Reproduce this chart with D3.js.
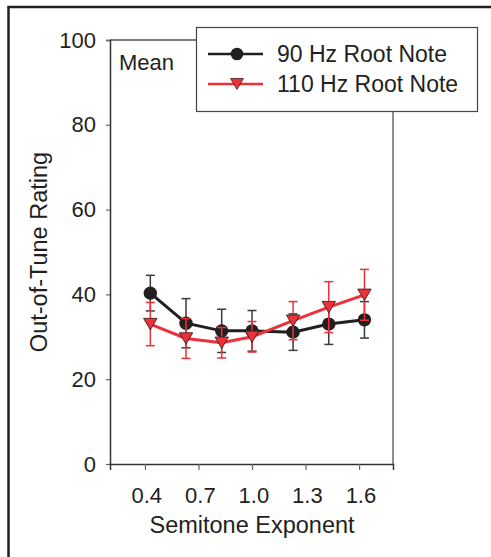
<!DOCTYPE html>
<html>
<head>
<meta charset="utf-8">
<script src="https://cdn.jsdelivr.net/npm/d3@7"></script>
<style>
body { margin: 0; background: #fff; }
svg { display: block; }
text { font-family: "Liberation Sans", Arial, sans-serif; fill: #231f20; }
</style>
</head>
<body>
<svg id="chart"></svg>
<script>
// values
const exponents = [0.43, 0.63, 0.83, 1.0, 1.23, 1.43, 1.63];
const root90 = [40.3, 33.2, 31.4, 31.4, 31.1, 33.0, 34.0];
const root90Err = [4.2, 5.8, 5.1, 4.8, 4.3, 4.8, 4.3];
const root110 = [33.0, 29.6, 28.6, 30.0, 33.8, 37.0, 39.9];
const root110Err = [5.1, 4.7, 3.6, 3.6, 4.5, 6.0, 6.0];
const xTicks = [0.4, 0.7, 1.0, 1.3, 1.6];
const yTicks = [0, 20, 40, 60, 80, 100];
const seriesNames = ["90 Hz Root Note", "110 Hz Root Note"];

const W = 491, H = 557;
const margin = {top: 40, right: 98, bottom: 93, left: 110};
const width = W - margin.left - margin.right;
const height = H - margin.top - margin.bottom;

const svg = d3.select("#chart").attr("width", W).attr("height", H);

// outer figure frame (only top and left edges are inside the picture)
svg.append("path")
	.attr("d", "M8.5," + H + "V7H" + W)
	.attr("fill", "none")
	.attr("stroke", "#231f20")
	.attr("stroke-width", 2.5);

const x = d3.scaleLinear().domain([0.204, 1.79]).range([0, width]);
const y = d3.scaleLinear().domain([0, 100]).range([height, 0]);

const g = svg.append("g")
	.attr("transform", "translate(" + margin.left + "," + margin.top + ")");

// frame top / right
g.append("path")
	.attr("d", "M0,0H" + width + "V" + height)
	.attr("fill", "none")
	.attr("stroke", "#555")
	.attr("stroke-width", 1.3);

let yAxis = g.append("g")
	.call(d3.axisLeft(y).tickValues(yTicks).tickSize(4).tickPadding(10));
let xAxis = g.append("g")
	.attr("transform", "translate(0," + height + ")")
	.call(d3.axisBottom(x).tickValues(xTicks).tickFormat(d3.format(".1f")).tickSize(6).tickPadding(17));

[yAxis, xAxis].forEach(function(a){
	a.select(".domain").attr("stroke", "#333").attr("stroke-width", 1.5);
	a.selectAll(".tick line").attr("stroke", "#666").attr("stroke-width", 1.2);
	a.selectAll("text").style("font-size", "22px").attr("fill", "#231f20")
		.style("font-family", '"Liberation Sans", Arial, sans-serif');
});
yAxis.select(".domain").attr("d", "M-4,0.5H0.5V" + height);
xAxis.selectAll("text").attr("dx", "0.06em");

// axis titles
g.append("text")
	.attr("x", x(1.0))
	.attr("y", height + 69)
	.attr("text-anchor", "middle")
	.style("font-size", "23.5px")
	.text("Semitone Exponent");

g.append("text")
	.attr("transform", "translate(" + (-63) + "," + (height / 2) + ") rotate(-90)")
	.attr("text-anchor", "middle")
	.style("font-size", "23.5px")
	.text("Out-of-Tune Rating");

g.append("text")
	.attr("x", 9)
	.attr("y", 30)
	.style("font-size", "22px")
	.text("Mean");

// downward triangle centred on its bounding box
const triDown = {
	draw: function(ctx, size) {
		let w = Math.sqrt(size) * 0.6, h = w * 0.85;
		ctx.moveTo(-w, -h);
		ctx.lineTo(w, -h);
		ctx.lineTo(0, h);
		ctx.closePath();
	}
};

let series = [
	{name: seriesNames[0], values: root90, err: root90Err, color: "#231f20", bar: "#3a3a3a", fill: "#231f20"},
	{name: seriesNames[1], values: root110, err: root110Err, color: "#ee3139", bar: "#ee3139", fill: "#e8333b"}
];

let line = d3.line()
	.x(function(d){ return x(d.x); })
	.y(function(d){ return y(d.y); });

series.forEach(function(s, k){
	let pts = s.values.map(function(v, i){ return {x: exponents[i], y: v, e: s.err[i]}; });
	let sg = g.append("g");

	let bars = sg.selectAll(".bar").data(pts).enter().append("g")
		.attr("stroke", s.bar).attr("stroke-width", 1.5);
	bars.append("line")
		.attr("x1", d => x(d.x)).attr("x2", d => x(d.x))
		.attr("y1", d => y(d.y + d.e)).attr("y2", d => y(d.y - d.e));
	bars.append("line")
		.attr("x1", d => x(d.x) - 4.5).attr("x2", d => x(d.x) + 4.5)
		.attr("y1", d => y(d.y + d.e)).attr("y2", d => y(d.y + d.e));
	bars.append("line")
		.attr("x1", d => x(d.x) - 4.5).attr("x2", d => x(d.x) + 4.5)
		.attr("y1", d => y(d.y - d.e)).attr("y2", d => y(d.y - d.e));

	sg.append("path")
		.datum(pts)
		.attr("d", line)
		.attr("fill", "none")
		.attr("stroke", s.color)
		.attr("stroke-width", 3);

	if (k == 0) {
		sg.selectAll("circle").data(pts).enter().append("circle")
			.attr("cx", d => x(d.x)).attr("cy", d => y(d.y))
			.attr("r", 6.7)
			.attr("fill", s.fill);
	} else {
		sg.selectAll(".tri").data(pts).enter().append("path")
			.attr("transform", d => "translate(" + x(d.x) + "," + y(d.y) + ")")
			.attr("d", d3.symbol().type(triDown).size(125))
			.attr("fill", s.fill)
			.attr("stroke", "#4a1a1c")
			.attr("stroke-width", 0.9);
	}
});

// legend
let lg = svg.append("g").attr("transform", "translate(196,27)");
lg.append("rect")
	.attr("x", 0.5).attr("y", 0.5)
	.attr("width", 281).attr("height", 84)
	.attr("fill", "#fff")
	.attr("stroke", "#444")
	.attr("stroke-width", 1.2);

series.forEach(function(s, k){
	let row = lg.append("g").attr("transform", "translate(0," + (27 + k * 30) + ")");
	row.append("line")
		.attr("x1", 12).attr("x2", 67)
		.attr("stroke", s.color).attr("stroke-width", 2.5);
	if (k == 0) {
		row.append("circle").attr("cx", 41).attr("r", 6.3).attr("fill", s.fill);
	} else {
		row.append("path")
			.attr("transform", "translate(41,0)")
			.attr("d", d3.symbol().type(triDown).size(115))
			.attr("fill", s.fill)
			.attr("stroke", "#4a1a1c")
			.attr("stroke-width", 0.8);
	}
	row.append("text")
		.attr("x", 81)
		.attr("y", 0)
		.attr("dy", "0.35em")
		.style("font-size", "23px")
		.text(s.name);
});
</script>
</body>
</html>
